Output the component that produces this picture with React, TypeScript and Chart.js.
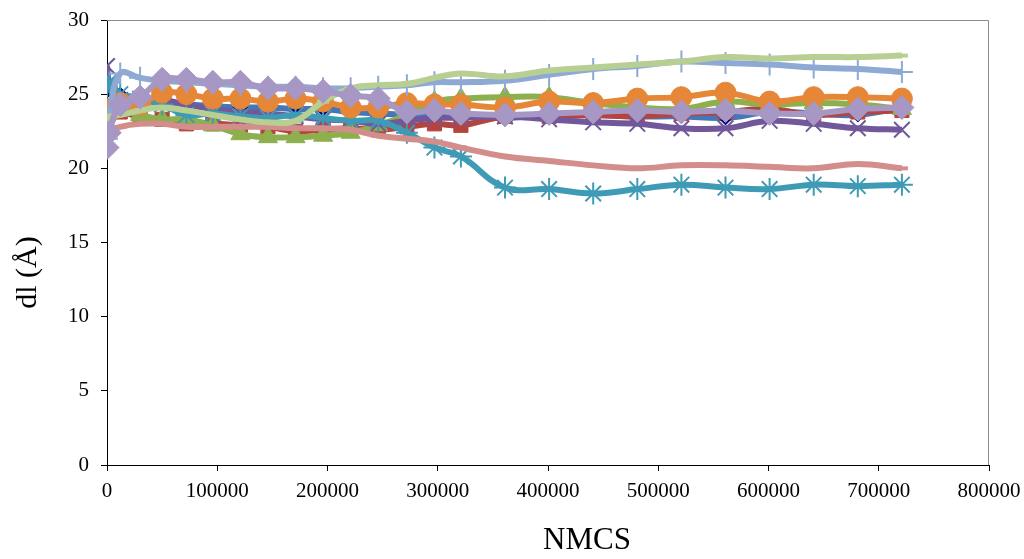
import React, { useEffect, useRef } from "react";
import { Chart, registerables } from "chart.js";

Chart.register(...registerables);

const X = [0, 2000, 12000, 30000, 50000, 72000, 96000, 121000, 146000, 171000, 196000, 221000, 246000, 272000, 297000, 321000, 361000, 401000, 441000, 481000, 521000, 561000, 601000, 641000, 681000, 721000];

const blue = [25.2, 25.4, 25.0, 24.6, 24.5, 24.3, 24.2, 24.1, 24.1, 24.0, 24.0, 23.8, 23.7, 23.6, 23.6, 23.5, 23.4, 23.6, 23.6, 23.5, 23.5, 23.4, 23.8, 23.7, 23.6, 24.1];
const red = [24.2, 24.0, 23.8, 23.5, 23.3, 23.0, 23.0, 22.9, 22.8, 22.5, 22.6, 22.7, 22.6, 22.8, 23.0, 22.9, 23.5, 23.5, 23.6, 23.5, 23.7, 23.8, 24.0, 23.6, 23.8, 23.9];
const green = [23.8, 23.8, 24.0, 23.6, 23.3, 23.3, 22.9, 22.3, 22.1, 22.1, 22.2, 22.4, 22.9, 23.6, 24.5, 24.7, 24.8, 24.8, 24.4, 24.1, 24.0, 24.5, 24.3, 24.4, 24.3, 24.0];
const purple = [26.9, 25.8, 24.6, 24.5, 24.6, 24.3, 24.0, 23.8, 23.7, 23.5, 23.3, 23.2, 23.0, 23.2, 23.4, 23.4, 23.5, 23.3, 23.1, 23.0, 22.7, 22.7, 23.2, 23.0, 22.7, 22.6];
const teal = [25.5, 25.8, 25.0, 24.7, 24.3, 23.6, 23.7, 23.5, 23.4, 23.6, 23.4, 23.2, 23.2, 22.4, 21.4, 20.8, 18.7, 18.6, 18.3, 18.6, 18.9, 18.7, 18.6, 18.9, 18.8, 18.9];
const orange = [23.6, 24.0, 24.4, 24.3, 25.1, 25.0, 24.7, 24.7, 24.5, 24.7, 24.5, 24.1, 24.1, 24.4, 24.3, 24.3, 24.1, 24.5, 24.4, 24.7, 24.8, 25.1, 24.5, 24.8, 24.8, 24.7];
const lightBlue = [22.0, 23.5, 26.4, 26.1, 25.9, 25.8, 25.7, 25.6, 25.5, 25.5, 25.4, 25.4, 25.5, 25.6, 25.8, 25.8, 25.9, 26.3, 26.7, 26.9, 27.2, 27.1, 27.0, 26.8, 26.7, 26.5];
const pink = [22.3, 22.5, 22.8, 23.0, 23.0, 22.8, 22.8, 22.8, 22.8, 22.7, 22.7, 22.6, 22.2, 22.0, 21.8, 21.4, 20.8, 20.5, 20.2, 20.0, 20.2, 20.2, 20.1, 20.0, 20.3, 20.0];
const lightGreen = [23.3, 23.5, 23.6, 23.9, 24.1, 23.9, 23.6, 23.3, 23.1, 23.2, 24.5, 25.4, 25.6, 25.7, 26.1, 26.4, 26.2, 26.6, 26.8, 27.0, 27.2, 27.5, 27.4, 27.5, 27.5, 27.6];
const lavender = [21.4, 22.4, 24.3, 24.8, 26.0, 26.0, 25.8, 25.8, 25.4, 25.4, 25.2, 24.9, 24.7, 23.8, 23.9, 23.7, 23.6, 23.7, 23.8, 23.9, 23.8, 23.9, 23.7, 23.7, 24.0, 24.1];

const X_TITLE = "NMCS";
const Y_TITLE = "dl (Å)";

const SERIES = [
  { name: "1", values: blue, color: "#4576B5", marker: "rectRot", markerColor: "#00007a", radius: 7, mbw: 1 },
  { name: "2", values: red, color: "#B5443F", marker: "rect", markerColor: "#B5443F", radius: 10, mbw: 1 },
  { name: "3", values: green, color: "#8DAF4D", marker: "triangle", markerColor: "#8DAF4D", radius: 11, mbw: 1 },
  { name: "4", values: purple, color: "#71589A", marker: "crossRot", markerColor: "#71589A", radius: 11, mbw: 2 },
  { name: "5", values: teal, color: "#3F9BB5", marker: "star", markerColor: "#3F9BB5", radius: 11, mbw: 2 },
  { name: "6", values: orange, color: "#E68738", marker: "circle", markerColor: "#E68738", radius: 10.5, mbw: 1 },
  { name: "7", values: lightBlue, color: "#8EAAD4", marker: "cross", markerColor: "#8EAAD4", radius: 11, mbw: 2 },
  { name: "8", values: pink, color: "#D38E8C", marker: "line", markerColor: "#D38E8C", radius: 6, mbw: 4 },
  { name: "9", values: lightGreen, color: "#B8CF93", marker: "line", markerColor: "#B8CF93", radius: 6, mbw: 4 },
  { name: "10", values: lavender, color: "#A797C4", marker: "rectRot", markerColor: "#A797C4", radius: 12, mbw: 1 },
];

const overlay = {
  id: "overlay",
  beforeDatasetsDraw(chart: any) {
    const { ctx, chartArea: a } = chart;
    ctx.save();
    ctx.strokeStyle = "#8a8a8a";
    ctx.lineWidth = 1;
    ctx.beginPath();
    ctx.moveTo(a.left, a.top + 0.5);
    ctx.lineTo(a.right - 0.5, a.top + 0.5);
    ctx.lineTo(a.right - 0.5, a.bottom);
    ctx.stroke();
    ctx.restore();
  },
  afterDraw(chart: any) {
    const { ctx, chartArea: a } = chart;
    ctx.save();
    ctx.fillStyle = "#000";
    ctx.font = "31px 'Liberation Serif', serif";
    ctx.textAlign = "center";
    ctx.textBaseline = "middle";
    ctx.fillText(X_TITLE, 587, a.bottom + 76);
    ctx.translate(a.left - 79, (a.top + a.bottom) / 2 + 30);
    ctx.rotate(-Math.PI / 2);
    ctx.font = "30px 'Liberation Serif', serif";
    ctx.fillText(Y_TITLE, 0, 0);
    ctx.restore();
  },
};

export default function App() {
  const ref = useRef<HTMLCanvasElement | null>(null);
  useEffect(() => {
    if (!ref.current) return;
    Chart.defaults.font.family = "'Liberation Serif', serif";
    const chart = new Chart(ref.current, {
      type: "line",
      data: {
        datasets: SERIES.map((s, i) => ({
          label: s.name,
          data: X.map((x, j) => ({ x, y: s.values[j] })),
          borderColor: s.color,
          backgroundColor: s.markerColor,
          borderWidth: 6,
          tension: 0.4,
          pointStyle: s.marker as any,
          pointRadius: s.radius,
          pointBackgroundColor: s.markerColor,
          pointBorderColor: s.markerColor,
          pointBorderWidth: s.mbw,
          order: 10 - i,
          fill: false,
        })),
      },
      options: {
        responsive: false,
        animation: false,
        layout: { padding: { left: 0, right: 35, top: 20, bottom: 0 } },
        plugins: { legend: { display: false }, tooltip: { enabled: false } },
        scales: {
          x: {
            type: "linear",
            min: 0,
            max: 800000,
            ticks: {
              stepSize: 100000,
              color: "#000",
              font: { size: 21 },
              padding: 8,
              maxRotation: 0,
              autoSkip: false,
              callback: (v: any) => String(v),
            },
            grid: { display: true, drawOnChartArea: false, drawTicks: true, tickLength: 6, color: "#000" },
            border: { color: "#000", width: 1 },
            afterFit: (s: any) => { s.height = 94; s.paddingLeft = 0; s.paddingRight = 0; },
          },
          y: {
            min: 0,
            max: 30,
            ticks: { stepSize: 5, color: "#000", font: { size: 21 }, padding: 12 },
            grid: { display: true, drawOnChartArea: false, drawTicks: true, tickLength: 6, color: "#000" },
            border: { color: "#000", width: 1 },
            afterFit: (s: any) => { s.width = 107; s.paddingTop = 0; s.paddingBottom = 0; },
          },
        },
      },
      plugins: [overlay],
    });
    return () => chart.destroy();
  }, []);
  return (
    <div style={{ position: "fixed", left: 0, top: 0, width: 1024, height: 559, background: "#fff" }}>
      <canvas ref={ref} width={1024} height={559} />
    </div>
  );
}
